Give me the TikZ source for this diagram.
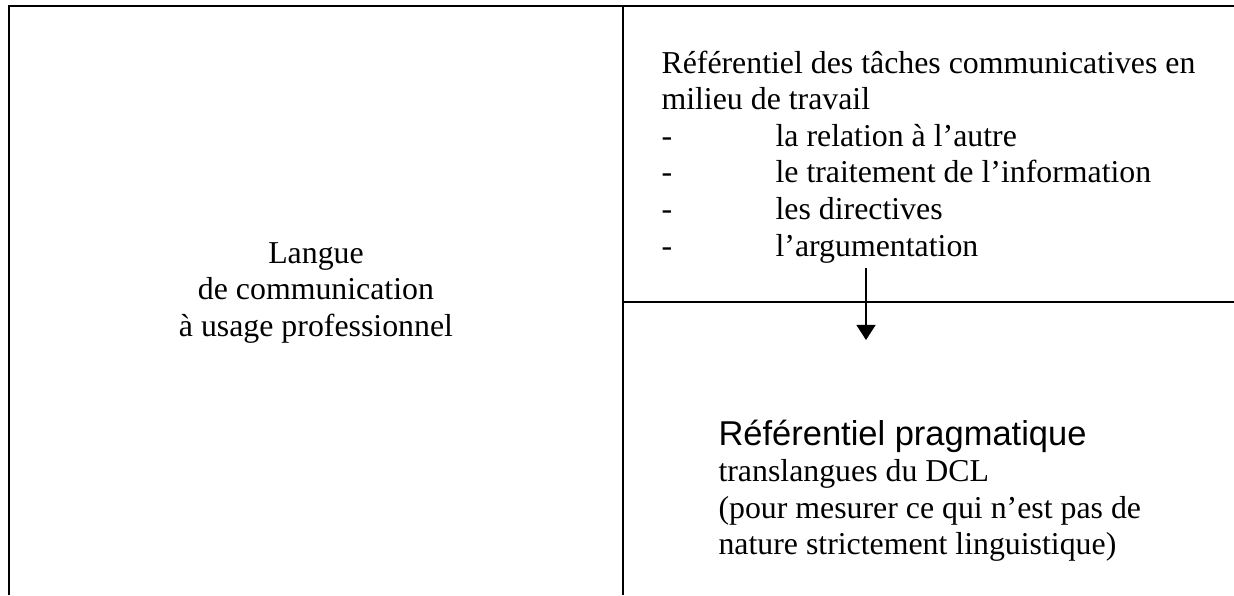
\documentclass[tikz,border=0pt]{standalone}
\usepackage{fontspec}
\setmainfont{Liberation Serif}
\newfontfamily\arialfont{Liberation Sans}
\usetikzlibrary{arrows.meta}
\begin{document}
\begin{tikzpicture}[x=0.377pt,y=-0.377pt,
  rule/.style={line width=0.75pt},
  txt/.style={inner sep=0pt, anchor=base west},
  arrowline/.style={line width=0.55pt,-{Triangle[width=7.2pt,length=5.7pt]}}]
\useasboundingbox (0,0) rectangle (1234,595);
% frame coordinates
\coordinate (bl) at (9,595);
\coordinate (tl) at (9,6);
\coordinate (tr) at (1234,6);
\coordinate (mt) at (623,6);
\coordinate (mb) at (623,595);
\coordinate (ml) at (623,302);
\coordinate (mr) at (1234,302);
\draw[rule] (bl) -- (tl) -- (tr);
\draw[rule] (mt) -- (mb);
\draw[rule] (ml) -- (mr);
% left cell
\node[inner sep=0pt, anchor=base] (lang) at (316,263)
  {\parbox[t]{220pt}{\centering\fontsize{12}{13.8}\selectfont
   Langue\\de communication\\à usage professionnel}};
% top right cell
\node[txt] (tasks) at (661,73)
  {\parbox[t]{216pt}{\raggedright\fontsize{12}{13.8}\selectfont
   Référentiel des tâches communicatives en\\
   milieu de travail\\
   \makebox[43pt][l]{-}la relation à l’autre\\
   \makebox[43pt][l]{-}le traitement de l’information\\
   \makebox[43pt][l]{-}les directives\\
   \makebox[43pt][l]{-}l’argumentation}};
% bottom right cell
\node[txt] (prag) at (718,445)
  {\parbox[t]{200pt}{\raggedright\fontsize{12}{13.8}\selectfont
   {\arialfont\fontsize{13}{13.8}\selectfont Référentiel pragmatique}\\
   translangues du DCL\\
   (pour mesurer ce qui n’est pas de\\
   nature strictement linguistique)}};
% arrow
\coordinate (arrS) at (866,268);
\coordinate (arrE) at (866,340);
\draw[arrowline] (arrS) -- (arrE);
\end{tikzpicture}
\end{document}
